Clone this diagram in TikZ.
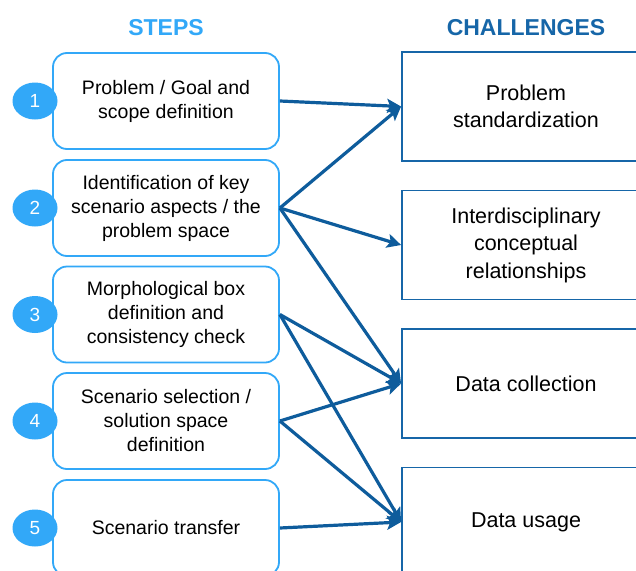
\documentclass[tikz,border=0pt]{standalone}
\usepackage{fontspec}
\setmainfont{Liberation Sans}
\usetikzlibrary{arrows.meta,shapes.geometric}
\definecolor{lblue}{RGB}{50,168,248}
\definecolor{dblue}{RGB}{22,102,168}
\definecolor{ablue}{RGB}{14,92,156}
\begin{document}
\begin{tikzpicture}[x=1pt,y=-1pt,
  stepbox/.style={draw=lblue,line width=1.8pt,rounded corners=14pt,fill=white,
    minimum width=226pt,minimum height=96pt,align=center,inner sep=0pt,
    font=\fontsize{19.5}{24}\selectfont},
  chalbox/.style={draw=dblue,line width=1.8pt,fill=white,
    minimum width=248pt,minimum height=109pt,align=center,inner sep=0pt,
    font=\fontsize{21.5}{27.5}\selectfont},
  numdot/.style={ellipse,fill=lblue,minimum width=45pt,minimum height=37pt,
    inner sep=0pt,text=white,font=\fontsize{19}{22}\selectfont},
  title/.style={font=\bfseries\fontsize{23}{26}\selectfont},
  conn/.style={draw=ablue,line width=3.2pt,-{Stealth[length=14pt,width=14pt,inset=3pt]}}
]
\useasboundingbox (0,0) rectangle (636,570);
\fill[white] (0,0) rectangle (636,570);
\node[title,text=lblue] (t1) at (166,27.5) {STEPS};
\node[title,text=dblue] (t2) at (526,27.5) {CHALLENGES};

\node[stepbox] (s1) at (166,101) {Problem / Goal and\\scope definition};
\node[stepbox] (s2) at (166,208) {Identification of key\\scenario aspects / the\\problem space};
\node[stepbox] (s3) at (166,314.5) {Morphological box\\definition and\\consistency check};
\node[stepbox] (s4) at (166,421) {Scenario selection /\\solution space\\definition};
\node[stepbox] (s5) at (166,528) {Scenario transfer};

\node[numdot] (n1) at (35,101) {1};
\node[numdot] (n2) at (35,208) {2};
\node[numdot] (n3) at (35,314.5) {3};
\node[numdot] (n4) at (35,421) {4};
\node[numdot] (n5) at (35,528) {5};

\node[chalbox] (c1) at (526,106.5) {Problem\\standardization};
\node[chalbox] (c2) at (526,245) {Interdisciplinary\\conceptual\\relationships};
\node[chalbox] (c3) at (526,383.5) {Data collection};
\node[chalbox] (c4) at (526,522) {Data usage};

\draw[conn] (s1.east) -- (c1.west);
\draw[conn] (s2.east) -- (c1.west);
\draw[conn] (s2.east) -- (c2.west);
\draw[conn] (s2.east) -- (c3.west);
\draw[conn] (s3.east) -- (c3.west);
\draw[conn] (s3.east) -- (c4.west);
\draw[conn] (s4.east) -- (c3.west);
\draw[conn] (s4.east) -- (c4.west);
\draw[conn] (s5.east) -- (c4.west);
\end{tikzpicture}
\end{document}
